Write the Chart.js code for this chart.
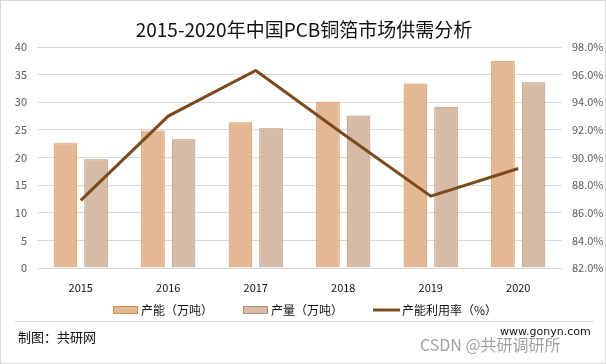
<!DOCTYPE html>
<html>
<head>
<meta charset="utf-8">
<script src="https://cdn.jsdelivr.net/npm/chart.js@4"></script>
<style>
  html, body { margin: 0; padding: 0; background: #fff; }
  #wrap { width: 606px; height: 364px; }
</style>
</head>
<body>
<div id="wrap"><canvas id="supplyChart" width="606" height="364"></canvas></div>
<script>
// 数据
const years = ['2015', '2016', '2017', '2018', '2019', '2020'];
const capacity = [22.6, 24.9, 26.4, 30.1, 33.4, 37.5];   // 产能（万吨）
const output = [19.7, 23.3, 25.3, 27.6, 29.2, 33.6];     // 产量（万吨）
const usageRate = [86.9, 93.0, 96.3, 91.7, 87.2, 89.2];  // 产能利用率（%）

const cjk = '"Noto Sans CJK SC", "Microsoft YaHei", sans-serif';

// 标题、图例、页脚、边框
const decorPlugin = {
    id: 'decor',
    beforeDraw(chart) {
        const ctx = chart.ctx;
        ctx.save();
        ctx.fillStyle = '#fff';
        ctx.fillRect(0, 0, chart.width, chart.height);
        ctx.restore();
    },
    afterDraw(chart) {
        const ctx = chart.ctx;
        const ds = chart.data.datasets;
        ctx.save();
        // 标题
        ctx.fillStyle = '#111';
        ctx.font = '19px ' + cjk;
        ctx.textAlign = 'center';
        ctx.textBaseline = 'middle';
        ctx.fillText('2015-2020年中国PCB铜箔市场供需分析', 304, 30);

        // 图例
        ctx.textAlign = 'left';
        ctx.font = '12px ' + cjk;
        const legendY = 310;
        [[ds[1], 113, 141], [ds[2], 243, 271]].forEach(([d, bx, tx]) => {
            ctx.fillStyle = d.backgroundColor;
            ctx.fillRect(bx, legendY - 4, 25, 8);
            ctx.strokeStyle = d.borderColor;
            ctx.lineWidth = 1;
            ctx.strokeRect(bx + 0.5, legendY - 3.5, 24, 7);
            ctx.fillStyle = '#111';
            ctx.fillText(d.label, tx, legendY);
        });
        ctx.strokeStyle = ds[0].borderColor;
        ctx.lineWidth = 3;
        ctx.beginPath();
        ctx.moveTo(373, legendY);
        ctx.lineTo(400, legendY);
        ctx.stroke();
        ctx.fillStyle = '#111';
        ctx.fillText(ds[0].label, 402, legendY);

        // 分隔线
        ctx.strokeStyle = '#d9d9d9';
        ctx.lineWidth = 1;
        ctx.beginPath();
        ctx.moveTo(15, 321.5);
        ctx.lineTo(594, 321.5);
        ctx.stroke();

        // 页脚
        ctx.fillStyle = '#111';
        ctx.font = '13px ' + cjk;
        ctx.fillText('制图：共研网', 18, 337);
        ctx.font = '11px "DejaVu Sans", sans-serif';
        ctx.fillText('www.gonyn.com', 500, 332);

        // 水印
        ctx.fillStyle = 'rgba(130,130,130,0.75)';
        ctx.font = '16px ' + cjk;
        ctx.fillText('CSDN @共研调研所', 420, 345);

        // 边框
        ctx.strokeStyle = '#d9d9d9';
        ctx.strokeRect(0.5, 0.5, chart.width - 1, chart.height - 1);
        ctx.restore();
    }
};

const config = {
    data: {
        labels: years,
        datasets: [
            {
                type: 'line',
                label: '产能利用率（%）',
                data: usageRate,
                yAxisID: 'y1',
                borderColor: '#7b4a1e',
                backgroundColor: '#7b4a1e',
                borderWidth: 3,
                pointRadius: 0,
                tension: 0,
                order: 0
            },
            {
                type: 'bar',
                label: '产能（万吨）',
                data: capacity,
                yAxisID: 'y',
                backgroundColor: '#e5b894',
                borderColor: '#d38d4e',
                borderWidth: 1,
                categoryPercentage: 0.7,
                barPercentage: 0.77,
                order: 1
            },
            {
                type: 'bar',
                label: '产量（万吨）',
                data: output,
                yAxisID: 'y',
                backgroundColor: '#d6bba6',
                borderColor: '#b98e6d',
                borderWidth: 1,
                categoryPercentage: 0.7,
                barPercentage: 0.77,
                order: 1
            }
        ]
    },
    options: {
        responsive: false,
        animation: false,
        layout: {
            padding: { top: 47, bottom: 0, left: 0, right: 0 }
        },
        scales: {
            x: {
                afterFit: scale => { scale.height = 96; },
                grid: { display: false },
                border: { color: '#d9d9d9' },
                ticks: {
                    color: '#111',
                    font: { size: 11, family: cjk },
                    padding: 5
                }
            },
            y: {
                position: 'left',
                min: 0,
                max: 40,
                afterFit: scale => { scale.width = 37; },
                ticks: {
                    stepSize: 5,
                    color: '#595959',
                    font: { size: 11, family: cjk },
                    padding: 10
                },
                grid: { color: '#d9d9d9', drawTicks: false },
                border: { display: false }
            },
            y1: {
                position: 'right',
                min: 82,
                max: 98,
                afterFit: scale => { scale.width = 44; },
                ticks: {
                    stepSize: 2,
                    color: '#595959',
                    font: { size: 11, family: cjk },
                    padding: 10,
                    callback: v => v.toFixed(1) + '%'
                },
                grid: { display: false, drawTicks: false },
                border: { display: false }
            }
        },
        plugins: {
            title: { display: false },
            tooltip: { enabled: false },
            legend: { display: false }
        }
    },
    plugins: [decorPlugin]
};

const supplyChart = new Chart(document.getElementById('supplyChart'), config);
</script>
</body>
</html>
